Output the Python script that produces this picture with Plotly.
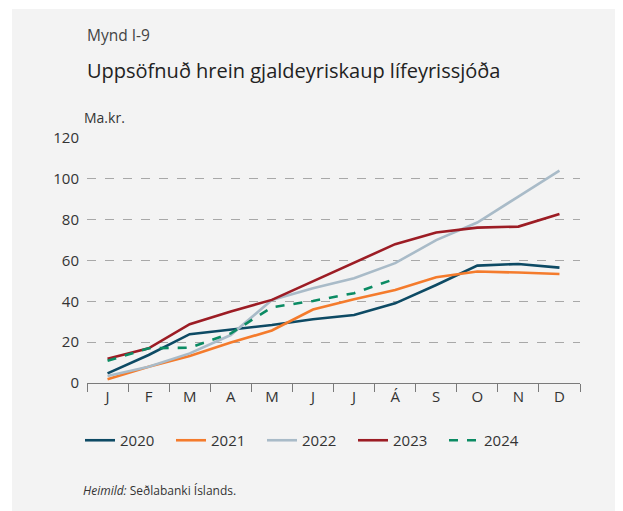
import plotly.graph_objects as go

months = ["J", "F", "M", "A", "M ", "J ", "J  ", "Á", "S", "O", "N", "D"]
month_labels = ["J", "F", "M", "A", "M", "J", "J", "Á", "S", "O", "N", "D"]
y2020 = [4.7, 13.7, 23.9, 26.3, 28.4, 31.2, 33.3, 39.0, 48.0, 57.5, 58.3, 56.5]
y2021 = [1.8, 8.0, 13.2, 19.8, 25.7, 36.0, 41.0, 45.6, 51.8, 54.6, 54.1, 53.4]
y2022 = [3.4, 8.0, 14.5, 23.5, 40.7, 46.4, 51.3, 58.7, 70.0, 78.6, 91.3, 104.0]
y2023 = [11.9, 17.0, 28.8, 35.0, 40.7, 49.7, 58.7, 68.0, 73.7, 76.1, 76.6, 82.8]
y2024 = [10.9, 17.0, 17.3, 24.3, 37.1, 40.2, 44.0, 51.0]
yticks = [0, 20, 40, 60, 80, 100, 120]

series = [
    ("2020", y2020, "#0d4a64", "solid"),
    ("2021", y2021, "#f47b2c", "solid"),
    ("2022", y2022, "#a9bbc8", "solid"),
    ("2023", y2023, "#9c1c24", "solid"),
    ("2024", y2024, "#0b8b63", "dash"),
]

W, H = 623, 511
OFF = 8  # page body margin
# plot area in page pixels: x 87..580, y 138..383
ml = 87 - OFF
mt = 138 - OFF
mr = W - (580 - OFF)
mb = H - (383 - OFF)

fig = go.Figure()
for name, vals, col, dash in series:
    fig.add_trace(go.Scatter(
        x=months[:len(vals)], y=vals, name=name, mode="lines",
        line=dict(color=col, width=2.6, dash=dash),
    ))

pw = W - ml - mr
ph = H - mt - mb

def px(x):
    return (x - OFF - ml) / pw

def py(y):
    return (H - mb - (y - OFF)) / ph

fig.add_shape(type="rect", xref="paper", yref="paper",
              x0=px(12), x1=px(W + 20),
              y0=py(H + 20), y1=py(9),
              fillcolor="#f3f3f3", line=dict(width=0), layer="below")

font = "Open Sans, Noto Sans, sans-serif"
fig.update_layout(
    width=W, height=H,
    margin=dict(l=ml, r=mr, t=mt, b=mb, pad=0),
    paper_bgcolor="white", plot_bgcolor="#f3f3f3",
    font=dict(family=font, size=14, color="#333333"),
    showlegend=True,
    legend=dict(orientation="h", x=px(80), xanchor="left",
                y=py(424), yanchor="top",
                font=dict(size=15, color="#333333"),
                entrywidth=46, entrywidthmode="pixels",
                bgcolor="rgba(0,0,0,0)", traceorder="normal"),
    xaxis=dict(
        type="category", categoryorder="array", categoryarray=months,
        tickmode="array", tickvals=months, ticktext=month_labels,
        range=[-0.5, 11.5], tickson="boundaries", ticks="outside",
        ticklen=8, tickcolor="#7a7a7a", tickwidth=1,
        showline=True, linecolor="#7a7a7a", linewidth=1,
        showgrid=False, zeroline=False,
        tickfont=dict(size=15, color="#333333"), fixedrange=True,
    ),
    yaxis=dict(
        range=[0, 120], tickvals=yticks, showgrid=True,
        gridcolor="#a8a8a8", griddash="dash", gridwidth=1,
        zeroline=False, showline=False, ticks="",
        ticklabelstandoff=7,
        tickfont=dict(size=15, color="#333333"), fixedrange=True,
    ),
)

fig.add_annotation(text="Mynd I-9", xref="paper", yref="paper",
                   x=px(85), y=py(35), xanchor="left", yanchor="middle",
                   showarrow=False, font=dict(size=15.5, color="#444444", family=font))
fig.add_annotation(text="Uppsöfnuð hrein gjaldeyriskaup lífeyrissjóða", xref="paper", yref="paper",
                   x=px(85), y=py(70), xanchor="left", yanchor="middle",
                   showarrow=False, font=dict(size=20, color="#222222", family=font))
fig.add_annotation(text="Ma.kr.", xref="paper", yref="paper",
                   x=px(82), y=py(117), xanchor="left", yanchor="middle",
                   showarrow=False, font=dict(size=14, color="#333333", family=font))
fig.add_annotation(text="<i>Heimild:</i> Seðlabanki Íslands.", xref="paper", yref="paper",
                   x=px(81), y=py(490), xanchor="left", yanchor="middle",
                   showarrow=False, font=dict(size=12, color="#333333", family=font))

fig.write_html("out.html")
